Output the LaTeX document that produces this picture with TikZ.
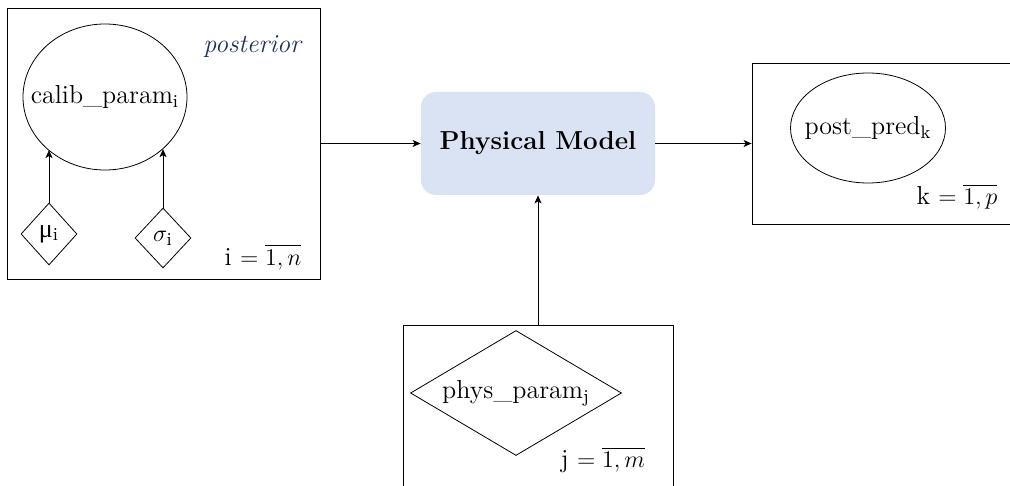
\documentclass[tikz,border=0pt]{standalone}
\usepackage{amsmath, amssymb}
\usepackage{fontspec}
\newfontfamily\greekfont{Liberation Serif}
\usepackage{tikz}
\usetikzlibrary{positioning, shapes.geometric, arrows.meta}
\definecolor{modelblue}{RGB}{218,227,243}
\definecolor{postblue}{RGB}{28,48,96}

\begin{document}
\begin{tikzpicture}[x=0.5pt, y=-0.5pt, >={Stealth[length=4pt, width=3.5pt, inset=1pt]},
        every node/.style={font=\fontsize{13}{15}\selectfont},
        plate/.style={shape=rectangle, draw=black, inner sep=0pt},
        var/.style={shape=ellipse, draw=black, inner sep=0pt},
        param/.style={shape=diamond, draw=black, inner sep=0pt}]
        \useasboundingbox (0,0) rectangle (1010,486);
        \clip (0,0) rectangle (1010,486);

        % calibration plate
        \node[plate, minimum width=156.5pt, minimum height=135.5pt] (calibplate) at (163.5,143.5) {};
        \node[var, minimum width=82pt, minimum height=73pt, label=center:{calib\_param$_\mathrm{i}$}] (calib) at (105,97) {};
        \node[param, minimum width=28pt, minimum height=31pt] (mu) at (49,234) {{\greekfont μ}$_\mathrm{i}$};
        \node[param, minimum width=28pt, minimum height=30pt] (sigma) at (163,238) {$\sigma_\mathrm{i}$};
        \node[text=postblue] (posterior) at (253,47) {\textit{posterior}};
        \node (irange) at (263,257) {i $= \overline{1,n}$};

        \path [->] (mu.north) edge (mu.north |- calib.223);
        \path [->] (sigma.north) edge (sigma.north |- calib.318);

        % model
        \node[fill=modelblue, rounded corners=7.5pt, minimum width=117pt, minimum height=51.5pt, font=\fontsize{13}{15}\selectfont\bfseries] (model) at (538,143.5) {Physical Model};

        % prediction plate
        \node[plate, minimum width=134pt, minimum height=80.5pt] (predplate) at (886,143.5) {};
        \node[var, minimum width=77.5pt, minimum height=55pt, label=center:{post\_pred$_\mathrm{k}$}] (pred) at (868,128) {};
        \node (krange) at (957,197) {k $= \overline{1,p}$};

        % physical parameter plate
        \node[plate, minimum width=135pt, minimum height=87.5pt] (physplate) at (538,412.5) {};
        \node[param, aspect=1.7, minimum width=105.5pt, minimum height=62.5pt] (phys) at (516,393) {phys\_param$_\mathrm{j}$};
        \node (jrange) at (603,460) {j $= \overline{1,m}$};

        \path [->] (calibplate.east) edge (model.west);
        \path [->] (model.east) edge (predplate.west);
        \path [->] (physplate.north) edge (model.south);
    \end{tikzpicture}
\end{document}
